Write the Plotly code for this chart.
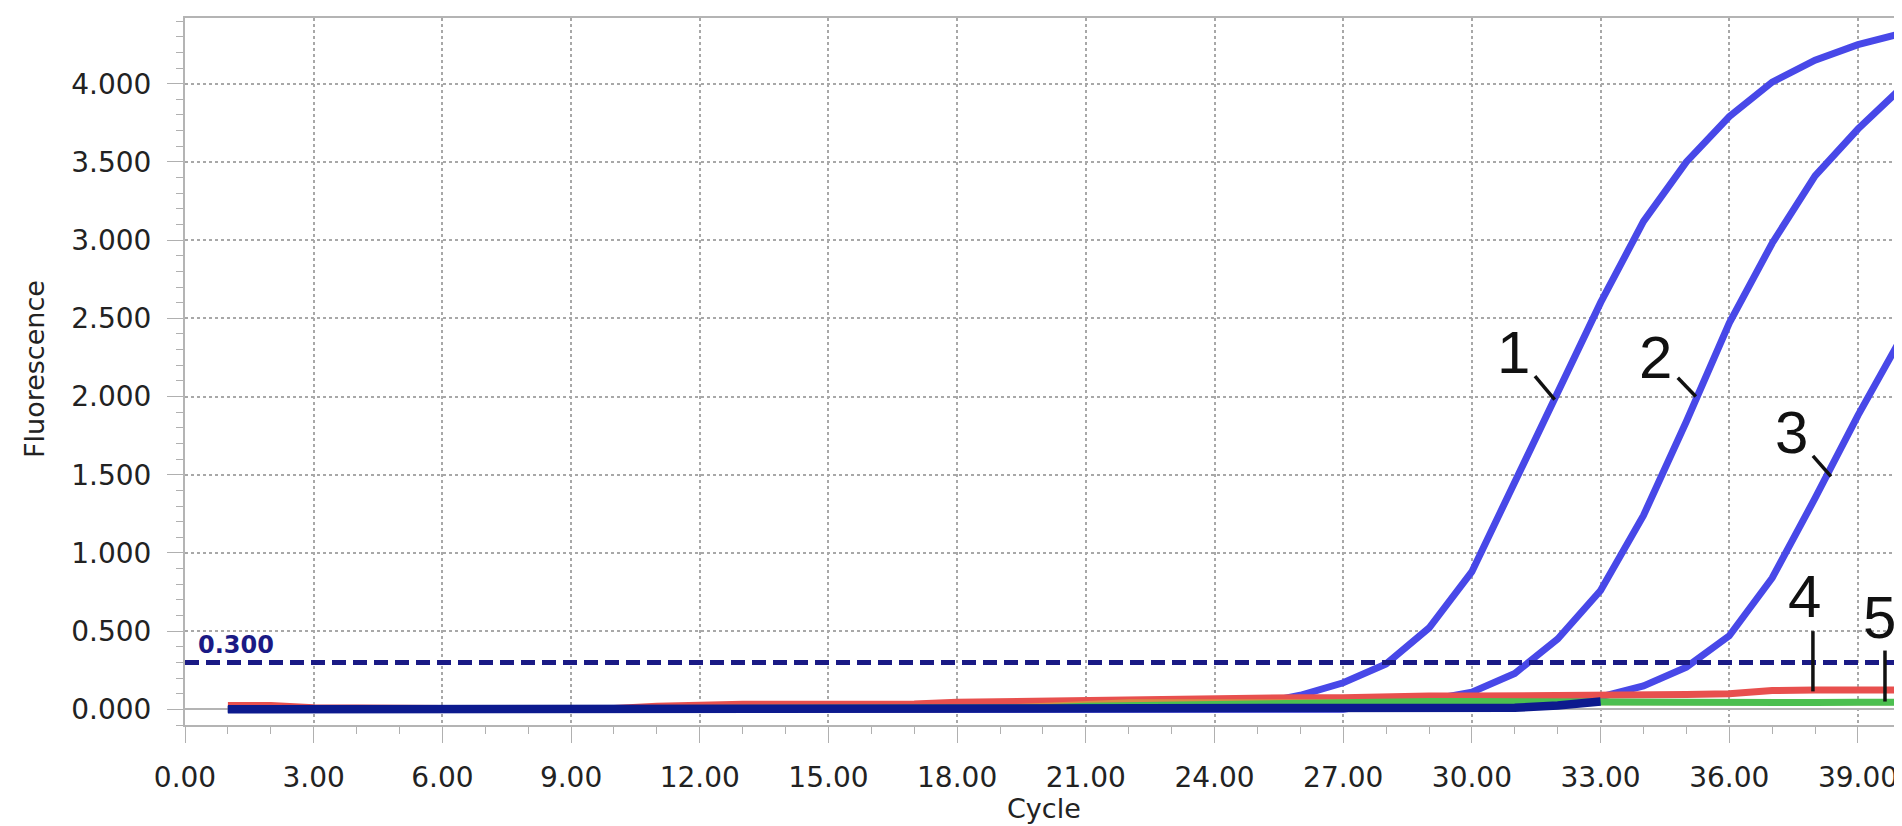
import plotly.graph_objects as go

# ---------------- data ----------------
cycles = list(range(1, 41))

curve_1 = [0.0]*22 + [0.01, 0.02, 0.035, 0.09, 0.17, 0.29, 0.52, 0.88,
                      1.45, 2.03, 2.60, 3.12, 3.50, 3.79, 4.01, 4.15, 4.25, 4.32]
curve_2 = [0.0]*27 + [0.04, 0.06, 0.11, 0.23, 0.45, 0.76, 1.24, 1.84,
                      2.47, 2.98, 3.41, 3.71, 3.97]
curve_3 = [0.0]*30 + [0.01, 0.04, 0.08, 0.15, 0.27, 0.47, 0.84, 1.35, 1.88, 2.37]

curve_4_red = [0.025, 0.025, 0.01, 0.005, 0.005, 0.005, 0.005, 0.005, 0.005, 0.005,
               0.02, 0.03, 0.033, 0.033, 0.033, 0.033, 0.035, 0.045, 0.05, 0.05,
               0.05, 0.055, 0.06, 0.07, 0.075, 0.075, 0.075, 0.085, 0.085, 0.085,
               0.085, 0.09, 0.095, 0.095, 0.095, 0.10, 0.12, 0.123, 0.123, 0.123]
curve_orange = [0.0]*18 + [0.01, 0.02, 0.035, 0.045, 0.045, 0.045, 0.045, 0.045,
                           0.045, 0.045, 0.045, 0.045, 0.045, 0.045, 0.045, 0.045,
                           0.045, 0.045, 0.045, 0.045, 0.045, 0.045]
curve_5_green = [0.0]*18 + [0.005, 0.01, 0.02, 0.025, 0.03, 0.03, 0.035, 0.04,
                            0.045, 0.048, 0.05, 0.05, 0.048, 0.045, 0.044, 0.043,
                            0.043, 0.043, 0.043, 0.044, 0.045, 0.045]
# dark baseline curves: traced until they merge with the other curves (cycle 33)
cycles_navy = list(range(1, 34))
curve_navy = [0.0]*29 + [0.005, 0.01, 0.025, 0.05]

threshold = 0.300
threshold_label = "0.300"

x_ticks = [0, 3, 6, 9, 12, 15, 18, 21, 24, 27, 30, 33, 36, 39]
y_ticks = [0, 0.5, 1.0, 1.5, 2.0, 2.5, 3.0, 3.5, 4.0]

# label positions (data coords) and leader segments
labels = ["1", "2", "3", "4", "5"]
label_x = [30.96, 34.29, 37.46, 37.76, 39.51]
label_y = [2.28, 2.25, 1.77, 0.72, 0.59]
leader_x0 = [31.47, 34.80, 37.95, 37.95, 39.63]
leader_y0 = [2.13, 2.12, 1.62, 0.50, 0.376]
leader_x1 = [31.93, 35.22, 38.37, 37.95, 39.63]
leader_y1 = [1.98, 2.00, 1.49, 0.115, 0.05]

BLUE = "#4848e8"
NAVY = "#0c1a8e"
RED = "#e8504e"
GREEN = "#4cbf50"
ORANGE = "#d98c45"
THR = "#1a1a85"

fig = go.Figure()
for ys in (curve_1, curve_2, curve_3):
    fig.add_trace(go.Scatter(x=cycles, y=ys, mode="lines",
                             line=dict(color=BLUE, width=7), hoverinfo="skip"))
fig.add_trace(go.Scatter(x=cycles, y=curve_4_red, mode="lines",
                         line=dict(color=RED, width=7), hoverinfo="skip"))
fig.add_trace(go.Scatter(x=cycles, y=curve_orange, mode="lines",
                         line=dict(color=ORANGE, width=6), hoverinfo="skip"))
fig.add_trace(go.Scatter(x=cycles, y=curve_5_green, mode="lines",
                         line=dict(color=GREEN, width=7), hoverinfo="skip"))
fig.add_trace(go.Scatter(x=cycles_navy, y=curve_navy, mode="lines",
                         line=dict(color=NAVY, width=8.5), hoverinfo="skip"))

fig.add_shape(type="line", xref="paper", yref="y", x0=0, x1=1, y0=threshold, y1=threshold,
              line=dict(color=THR, width=5, dash="14px,7px"), layer="above")
fig.add_annotation(x=0.25, y=threshold, xref="x", yref="y", text="<b>" + threshold_label + "</b>",
                   showarrow=False, xanchor="left", yanchor="bottom", yshift=1,
                   font=dict(family="DejaVu Sans", size=24, color=THR))

for t, lx, ly, x0, y0, x1, y1 in zip(labels, label_x, label_y, leader_x0, leader_y0,
                                     leader_x1, leader_y1):
    fig.add_annotation(x=lx, y=ly, xref="x", yref="y", text=t, showarrow=False,
                       xanchor="center", yanchor="middle",
                       font=dict(family="Liberation Sans", size=60, color="#111111"))
    fig.add_shape(type="line", xref="x", yref="y", x0=x0, y0=y0, x1=x1, y1=y1,
                  line=dict(color="#111111", width=3.5), layer="above")

# axis titles
title_font = dict(family="DejaVu Sans", size=27, color="#222222")
fig.add_annotation(x=0.5, y=-0.1174, xref="paper", yref="paper", text="Cycle",
                   showarrow=False, xanchor="center", yanchor="middle", font=title_font)
fig.add_annotation(x=-0.0879, y=0.5035, xref="paper", yref="paper", text="Fluorescence",
                   textangle=-90, showarrow=False, xanchor="center", yanchor="middle",
                   font=title_font)

axis_font = dict(family="DejaVu Sans", size=28, color="#222222")
fig.update_xaxes(range=[0, 40.05], tickvals=x_ticks, tickformat=".2f", automargin=False,
                 ticks="outside", ticklen=16, tickcolor="#b0b0b0", tickwidth=1,
                 ticklabelstandoff=10, tickfont=axis_font,
                 showgrid=True, gridcolor="#a8a8a8", gridwidth=1.5, griddash="dot",
                 showline=True, mirror=True, linecolor="#b4b4b4", linewidth=2,
                 zeroline=False,
                 minor=dict(dtick=1, tick0=0, ticks="outside", ticklen=7,
                            tickcolor="#b0b0b0", showgrid=False))
fig.update_yaxes(range=[-0.1, 4.42], tickvals=y_ticks, tickformat=".3f", automargin=False,
                 ticks="outside", ticklen=16, tickcolor="#b0b0b0", tickwidth=1,
                 ticklabelstandoff=10, tickfont=axis_font,
                 showgrid=True, gridcolor="#a8a8a8", gridwidth=1.5, griddash="dot",
                 showline=True, mirror=True, linecolor="#b4b4b4", linewidth=2,
                 zeroline=True, zerolinecolor="#b4b4b4", zerolinewidth=1.5,
                 minor=dict(dtick=0.1, tick0=0, ticks="outside", ticklen=7,
                            tickcolor="#b0b0b0", showgrid=False))

fig.update_layout(width=1902, height=826, showlegend=False,
                  margin=dict(l=177, r=7, t=10, b=109),
                  paper_bgcolor="white", plot_bgcolor="white")

fig.write_html("out.html")
